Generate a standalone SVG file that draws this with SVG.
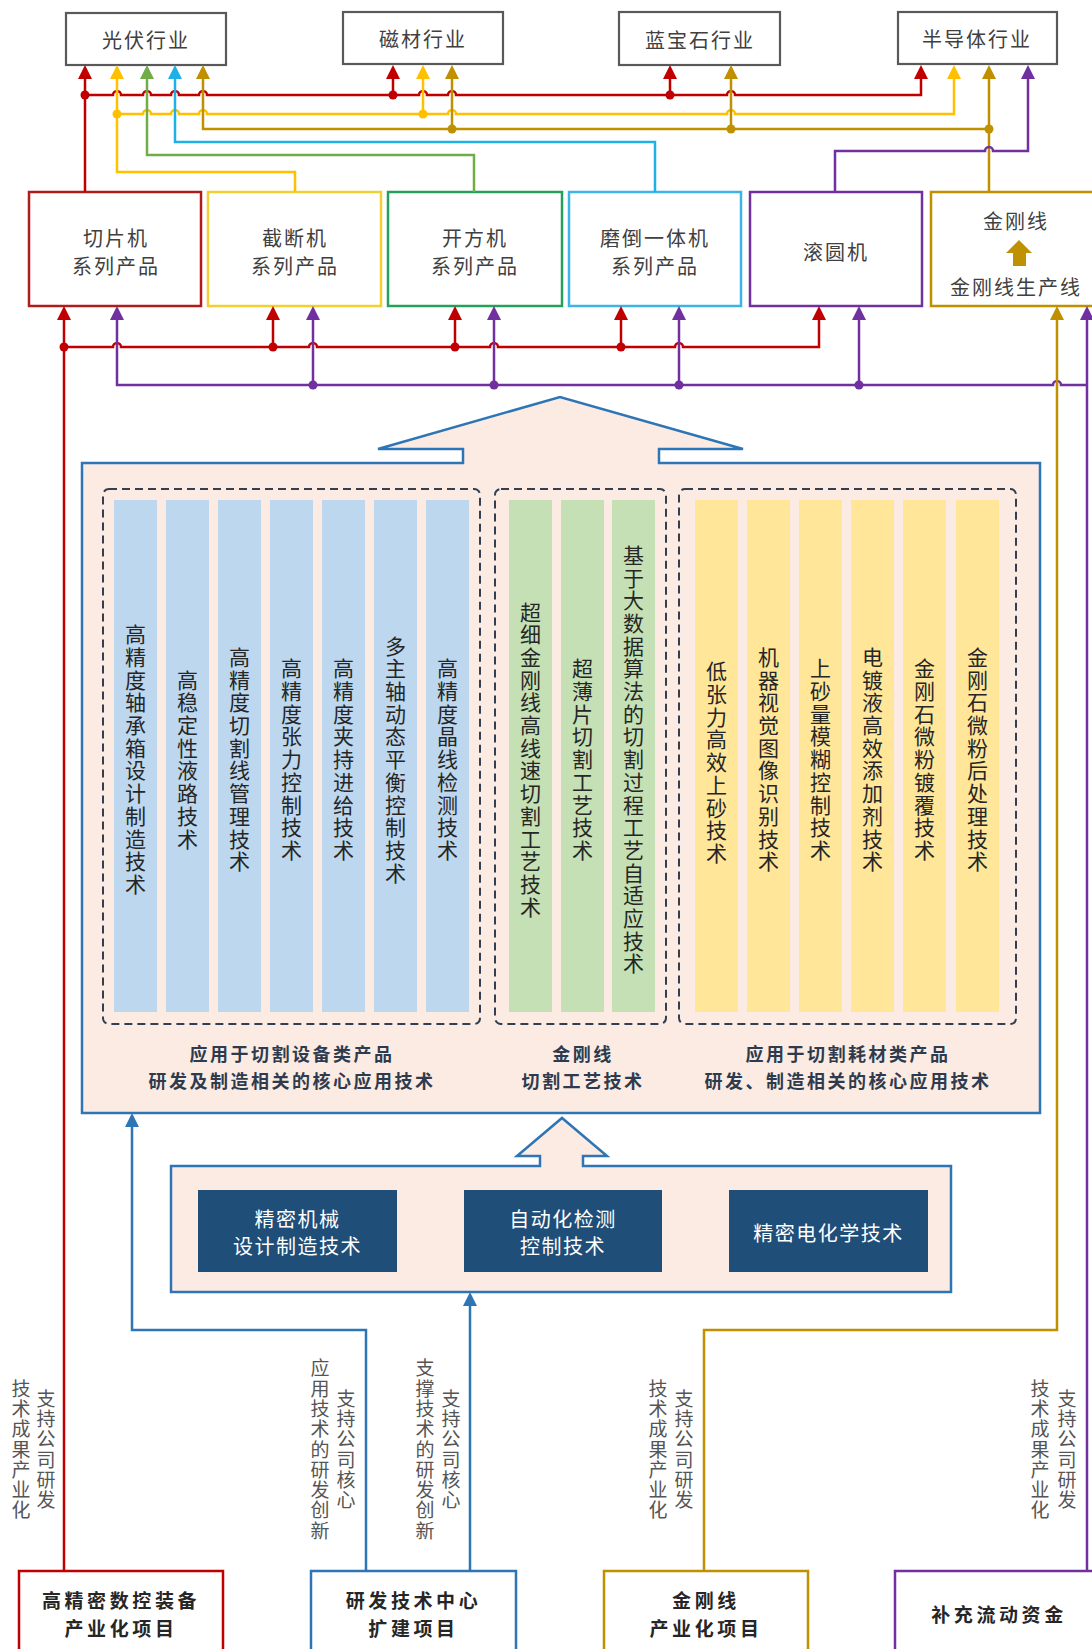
<svg xmlns="http://www.w3.org/2000/svg" width="1092" height="1649" viewBox="0 0 1092 1649">
<style>
text{font-family:"Noto Sans CJK SC","Noto Sans",sans-serif;}
.ind{fill:#fff;stroke:#595959;stroke-width:2.2;}
.t20{font-size:20px;fill:#404040;text-anchor:middle;dominant-baseline:central;letter-spacing:2px;}
.prod{fill:#fff;stroke-width:2.5;}
.ln{fill:none;stroke-width:2.5;}
.red{stroke:#c00000;}
.yel{stroke:#ffc000;}
.grn{stroke:#70ad47;}
.blu{stroke:#1fb0e6;}
.gld{stroke:#bf9000;}
.pur{stroke:#7030a0;}
.dblu{stroke:#2e75b6;}
.col{font-size:21px;fill:#262626;writing-mode:vertical-rl;text-anchor:middle;letter-spacing:1.7px;}
.ann{font-size:19px;fill:#555;writing-mode:vertical-rl;text-anchor:middle;letter-spacing:1.3px;}
.cap{font-size:18px;font-weight:bold;fill:#2e3b4e;text-anchor:middle;dominant-baseline:central;letter-spacing:2.5px;}
.dk{fill:#1f4e79;}
.wt{font-size:20px;fill:#fff;text-anchor:middle;dominant-baseline:central;letter-spacing:1.5px;}
.bt{font-size:19px;font-weight:bold;fill:#262626;text-anchor:middle;dominant-baseline:central;letter-spacing:3.6px;}
.dash{fill:none;stroke:#333f50;stroke-width:2;stroke-dasharray:8 5;}
</style>
<defs>
<marker id="aRed" viewBox="0 0 10 10" refX="7.1" refY="5" markerWidth="14" markerHeight="14" markerUnits="userSpaceOnUse" orient="auto"><path d="M0,0 L10,5 L0,10 z" fill="#c00000"/></marker>
<marker id="aYel" viewBox="0 0 10 10" refX="7.1" refY="5" markerWidth="14" markerHeight="14" markerUnits="userSpaceOnUse" orient="auto"><path d="M0,0 L10,5 L0,10 z" fill="#ffc000"/></marker>
<marker id="aGrn" viewBox="0 0 10 10" refX="7.1" refY="5" markerWidth="14" markerHeight="14" markerUnits="userSpaceOnUse" orient="auto"><path d="M0,0 L10,5 L0,10 z" fill="#70ad47"/></marker>
<marker id="aBlu" viewBox="0 0 10 10" refX="7.1" refY="5" markerWidth="14" markerHeight="14" markerUnits="userSpaceOnUse" orient="auto"><path d="M0,0 L10,5 L0,10 z" fill="#1fb0e6"/></marker>
<marker id="aGld" viewBox="0 0 10 10" refX="7.1" refY="5" markerWidth="14" markerHeight="14" markerUnits="userSpaceOnUse" orient="auto"><path d="M0,0 L10,5 L0,10 z" fill="#bf9000"/></marker>
<marker id="aPur" viewBox="0 0 10 10" refX="7.1" refY="5" markerWidth="14" markerHeight="14" markerUnits="userSpaceOnUse" orient="auto"><path d="M0,0 L10,5 L0,10 z" fill="#7030a0"/></marker>
<marker id="aDb" viewBox="0 0 10 10" refX="7.1" refY="5" markerWidth="14" markerHeight="14" markerUnits="userSpaceOnUse" orient="auto"><path d="M0,0 L10,5 L0,10 z" fill="#2e75b6"/></marker>
</defs>
<rect width="1092" height="1649" fill="#fff"/>

<!-- industries -->
<g id="ind-pv"><rect class="ind" x="66" y="13" width="160" height="52"/><text class="t20" x="146" y="39">光伏行业</text></g>
<g id="ind-mag"><rect class="ind" x="343" y="12" width="160" height="52"/><text class="t20" x="423" y="38">磁材行业</text></g>
<g id="ind-sap"><rect class="ind" x="619" y="12" width="161" height="53"/><text class="t20" x="700" y="39">蓝宝石行业</text></g>
<g id="ind-semi"><rect class="ind" x="898" y="12" width="159" height="52"/><text class="t20" x="977" y="38">半导体行业</text></g>

<!-- products -->
<g id="p-slice"><rect class="prod" stroke="#b01c1c" x="29" y="192" width="172" height="114"/><text class="t20" x="116" y="237">切片机</text><text class="t20" x="116" y="265">系列产品</text></g>
<g id="p-cut"><rect class="prod" stroke="#f2d034" x="208" y="192" width="173" height="114"/><text class="t20" x="295" y="237">截断机</text><text class="t20" x="295" y="265">系列产品</text></g>
<g id="p-square"><rect class="prod" stroke="#25a05a" x="388" y="192" width="174" height="114"/><text class="t20" x="475" y="237">开方机</text><text class="t20" x="475" y="265">系列产品</text></g>
<g id="p-grind"><rect class="prod" stroke="#3cb4e5" x="569" y="192" width="172" height="114"/><text class="t20" x="655" y="237">磨倒一体机</text><text class="t20" x="655" y="265">系列产品</text></g>
<g id="p-round"><rect class="prod" stroke="#7030a0" x="750" y="192" width="172" height="114"/><text class="t20" x="836" y="251">滚圆机</text></g>
<g id="p-wire"><rect class="prod" stroke="#bf9000" x="931" y="192" width="170" height="114"/><text class="t20" x="1016" y="220">金刚线</text><polygon points="1019,240 1032,253 1026,253 1026,266 1013,266 1013,253 1006,253" fill="#bf9000"/><text class="t20" x="1016" y="286">金刚线生产线</text></g>

<!-- core tech block -->
<g id="core">
<polygon points="82,463 463,463 463,449 378,449 560,397 743,449 659,449 659,463 1040,463 1040,1113 82,1113" fill="#fcebe2" stroke="#2e75b6" stroke-width="2.5"/>
<rect class="dash" x="103" y="489" width="377" height="535" rx="6"/>
<rect class="dash" x="495" y="489" width="171" height="535" rx="6"/>
<rect class="dash" x="679" y="489" width="337" height="535" rx="6"/>
<g fill="#bdd7ee">
<rect x="114" y="500" width="43" height="512"/><rect x="166" y="500" width="43" height="512"/><rect x="218" y="500" width="43" height="512"/><rect x="270" y="500" width="43" height="512"/><rect x="322" y="500" width="43" height="512"/><rect x="374" y="500" width="43" height="512"/><rect x="426" y="500" width="43" height="512"/>
</g>
<g fill="#c5e0b4">
<rect x="509" y="500" width="43" height="512"/><rect x="561" y="500" width="43" height="512"/><rect x="612" y="500" width="43" height="512"/>
</g>
<g fill="#ffe699">
<rect x="695" y="500" width="43" height="512"/><rect x="747" y="500" width="43" height="512"/><rect x="799" y="500" width="43" height="512"/><rect x="851" y="500" width="43" height="512"/><rect x="903" y="500" width="43" height="512"/><rect x="956" y="500" width="43" height="512"/>
</g>
<text class="col" x="135.5" y="760">高精度轴承箱设计制造技术</text>
<text class="col" x="187.5" y="760">高稳定性液路技术</text>
<text class="col" x="239.5" y="760">高精度切割线管理技术</text>
<text class="col" x="291.5" y="760">高精度张力控制技术</text>
<text class="col" x="343.5" y="760">高精度夹持进给技术</text>
<text class="col" x="395.5" y="760">多主轴动态平衡控制技术</text>
<text class="col" x="447.5" y="760">高精度晶线检测技术</text>
<text class="col" x="530.5" y="760">超细金刚线高线速切割工艺技术</text>
<text class="col" x="582.5" y="760">超薄片切割工艺技术</text>
<text class="col" x="633.5" y="760">基于大数据算法的切割过程工艺自适应技术</text>
<text class="col" x="716.5" y="763">低张力高效上砂技术</text>
<text class="col" x="768.5" y="760">机器视觉图像识别技术</text>
<text class="col" x="820.5" y="760">上砂量模糊控制技术</text>
<text class="col" x="872.5" y="760">电镀液高效添加剂技术</text>
<text class="col" x="924.5" y="760">金刚石微粉镀覆技术</text>
<text class="col" x="977.5" y="760">金刚石微粉后处理技术</text>
<text class="cap" x="292" y="1053">应用于切割设备类产品</text>
<text class="cap" x="292" y="1080">研发及制造相关的核心应用技术</text>
<text class="cap" x="583" y="1053">金刚线</text>
<text class="cap" x="583" y="1080">切割工艺技术</text>
<text class="cap" x="848" y="1053">应用于切割耗材类产品</text>
<text class="cap" x="848" y="1080">研发、制造相关的核心应用技术</text>
</g>

<!-- foundation -->
<g id="foundation">
<polygon points="171,1166 540,1166 540,1156 517,1156 562,1118 607,1156 583,1156 583,1166 951,1166 951,1292 171,1292" fill="#fcebe2" stroke="#2e75b6" stroke-width="2.5"/>
<rect class="dk" x="198" y="1190" width="199" height="82"/>
<text class="wt" x="297.5" y="1218">精密机械</text><text class="wt" x="297.5" y="1245">设计制造技术</text>
<rect class="dk" x="464" y="1190" width="198" height="82"/>
<text class="wt" x="563" y="1218">自动化检测</text><text class="wt" x="563" y="1245">控制技术</text>
<rect class="dk" x="729" y="1190" width="199" height="82"/>
<text class="wt" x="828.5" y="1232">精密电化学技术</text>
</g>

<!-- projects -->
<g id="prj-cnc"><rect class="prod" stroke="#c00000" x="19" y="1571" width="204" height="95"/><text class="bt" x="121" y="1599">高精密数控装备</text><text class="bt" x="121" y="1627">产业化项目</text></g>
<g id="prj-rd"><rect class="prod" stroke="#2e75b6" x="311" y="1571" width="205" height="95"/><text class="bt" x="413.5" y="1599">研发技术中心</text><text class="bt" x="413.5" y="1627">扩建项目</text></g>
<g id="prj-wire"><rect class="prod" stroke="#bf9000" x="604" y="1571" width="204" height="95"/><text class="bt" x="706" y="1599">金刚线</text><text class="bt" x="706" y="1627">产业化项目</text></g>
<g id="prj-cash"><rect class="prod" stroke="#7030a0" x="895" y="1571" width="210" height="95"/><text class="bt" x="999" y="1613">补充流动资金</text></g>

<!-- connectors -->
<g id="connectors">
<path class="ln red" d="M85,192 V69" marker-end="url(#aRed)"/>
<path class="ln red" d="M85,95 H113 A4,4 0 0 1 121,95 H143 A4,4 0 0 1 151,95 H171 A4,4 0 0 1 179,95 H199 A4,4 0 0 1 207,95 H419 A4,4 0 0 1 427,95 H448 A4,4 0 0 1 456,95 H727 A4,4 0 0 1 735,95 H921 V69" marker-end="url(#aRed)"/>
<path class="ln red" d="M393,95 V69" marker-end="url(#aRed)"/>
<path class="ln red" d="M670,95 V69" marker-end="url(#aRed)"/>
<path class="ln yel" d="M295,192 V172 H117 V69" marker-end="url(#aYel)"/>
<path class="ln yel" d="M117,114 H143 A4,4 0 0 1 151,114 H171 A4,4 0 0 1 179,114 H199 A4,4 0 0 1 207,114 H448 A4,4 0 0 1 456,114 H727 A4,4 0 0 1 735,114 H954 V69" marker-end="url(#aYel)"/>
<path class="ln yel" d="M423,114 V69" marker-end="url(#aYel)"/>
<path class="ln grn" d="M474,192 V155 H147 V69" marker-end="url(#aGrn)"/>
<path class="ln blu" d="M655,192 V142 H175 V69" marker-end="url(#aBlu)"/>
<path class="ln gld" d="M989,192 V69" marker-end="url(#aGld)"/>
<path class="ln gld" d="M989,129 H203 V69" marker-end="url(#aGld)"/>
<path class="ln gld" d="M452,129 V69" marker-end="url(#aGld)"/>
<path class="ln gld" d="M731,129 V69" marker-end="url(#aGld)"/>
<path class="ln pur" d="M835,192 V151 H985 A4,4 0 0 1 993,151 H1028 V69" marker-end="url(#aPur)"/>
<g fill="#c00000"><circle cx="85" cy="95" r="4.5"/><circle cx="393" cy="95" r="4.5"/><circle cx="670" cy="95" r="4.5"/></g>
<g fill="#ffc000"><circle cx="117" cy="114" r="4.5"/><circle cx="423" cy="114" r="4.5"/></g>
<g fill="#bf9000"><circle cx="452" cy="129" r="4.5"/><circle cx="731" cy="129" r="4.5"/><circle cx="989" cy="129" r="4.5"/></g>

<path class="ln red" d="M64,1571 V310" marker-end="url(#aRed)"/>
<path class="ln red" d="M64,347 H113 A4,4 0 0 1 121,347 H309 A4,4 0 0 1 317,347 H490 A4,4 0 0 1 498,347 H675 A4,4 0 0 1 683,347 H819 V310" marker-end="url(#aRed)"/>
<path class="ln red" d="M273,347 V310" marker-end="url(#aRed)"/>
<path class="ln red" d="M455,347 V310" marker-end="url(#aRed)"/>
<path class="ln red" d="M621,347 V310" marker-end="url(#aRed)"/>
<path class="ln pur" d="M1087,1571 V310" marker-end="url(#aPur)"/>
<path class="ln pur" d="M1087,385 H1061 A4,4 0 0 0 1053,385 H117 V310" marker-end="url(#aPur)"/>
<path class="ln pur" d="M313,385 V310" marker-end="url(#aPur)"/>
<path class="ln pur" d="M494,385 V310" marker-end="url(#aPur)"/>
<path class="ln pur" d="M679,385 V310" marker-end="url(#aPur)"/>
<path class="ln pur" d="M859,385 V310" marker-end="url(#aPur)"/>
<path class="ln gld" d="M704,1571 V1330 H1057 V310" marker-end="url(#aGld)"/>
<g fill="#c00000"><circle cx="64" cy="347" r="4.5"/><circle cx="273" cy="347" r="4.5"/><circle cx="455" cy="347" r="4.5"/><circle cx="621" cy="347" r="4.5"/></g>
<g fill="#7030a0"><circle cx="313" cy="385" r="4.5"/><circle cx="494" cy="385" r="4.5"/><circle cx="679" cy="385" r="4.5"/><circle cx="859" cy="385" r="4.5"/></g>
<path class="ln dblu" d="M366,1571 V1330 H132 V1117" marker-end="url(#aDb)"/>
<path class="ln dblu" d="M470,1571 V1296" marker-end="url(#aDb)"/>
</g>

<g id="annotations">
<text class="ann" x="46" y="1450">支持公司研发</text>
<text class="ann" x="21" y="1450">技术成果产业化</text>
<text class="ann" x="346" y="1450">支持公司核心</text>
<text class="ann" x="320" y="1450">应用技术的研发创新</text>
<text class="ann" x="451" y="1450">支持公司核心</text>
<text class="ann" x="425" y="1450">支撑技术的研发创新</text>
<text class="ann" x="684" y="1450">支持公司研发</text>
<text class="ann" x="658" y="1450">技术成果产业化</text>
<text class="ann" x="1067" y="1450">支持公司研发</text>
<text class="ann" x="1040" y="1450">技术成果产业化</text>
</g>
</svg>
